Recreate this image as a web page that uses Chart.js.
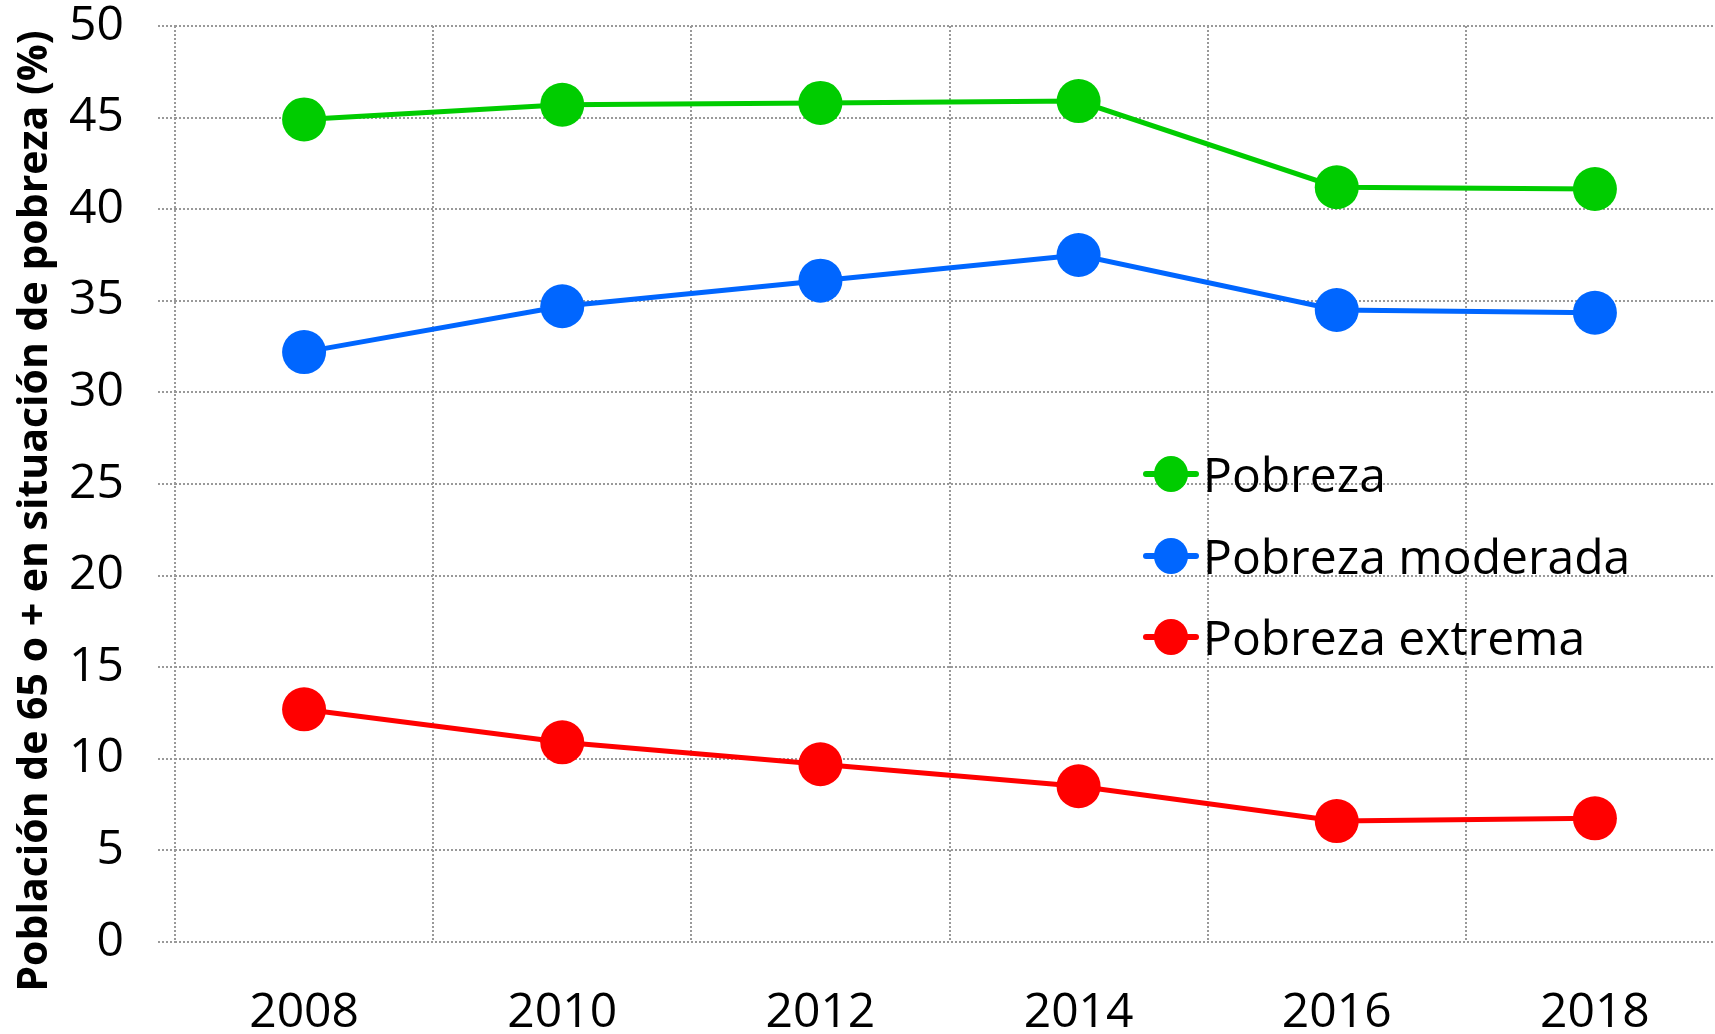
<!DOCTYPE html>
<html>
<head>
<meta charset="utf-8">
<script src="https://cdn.jsdelivr.net/npm/chart.js@4/dist/chart.umd.min.js"></script>
<style>
  html, body { margin: 0; padding: 0; background: #fff; overflow: hidden; width: 1715px; height: 1034px; }
  #wrap { position: relative; width: 1715px; height: 1034px; overflow: hidden; }
  #c { position: absolute; left: 0; top: 0; }
  #legend { position: absolute; left: 1143px; top: 0; font-family: 'Open Sans', sans-serif; font-size: 48px; color: #000; }
  .item { position: absolute; left: 0; display: flex; align-items: center; white-space: nowrap; height: 60px; }
  .mk { position: relative; width: 56px; height: 40px; }
  .mk .ln { position: absolute; left: 0; right: 0; top: 17px; height: 6px; border-radius: 3px; }
  .mk .dot { position: absolute; left: 11px; top: 2px; width: 34px; height: 36px; border-radius: 50%; }
  .tx { margin-left: 4px; line-height: 60px; }
</style>
</head>
<body>
<div id="wrap">
  <canvas id="c" width="1726" height="1034"></canvas>
  <div id="legend"></div>
</div>
<script>
const years = ['2008', '2010', '2012', '2014', '2016', '2018'];
const pobreza = [44.9, 45.7, 45.8, 45.9, 41.2, 41.1];
const pobrezaModerada = [32.2, 34.7, 36.1, 37.5, 34.5, 34.35];
const pobrezaExtrema = [12.7, 10.9, 9.7, 8.5, 6.6, 6.75];
const seriesNames = ['Pobreza', 'Pobreza moderada', 'Pobreza extrema'];
const seriesColors = ['#00CC00', '#0066FF', '#FF0000'];
const yTitle = 'Población de 65 o + en situación de pobreza (%)';
const yMin = 0, yMax = 50, yStep = 5;

const FONT = "'Open Sans', sans-serif";
const seriesData = [pobreza, pobrezaModerada, pobrezaExtrema];

const datasets = seriesData.map((d, i) => ({
  label: seriesNames[i],
  data: d,
  borderColor: seriesColors[i],
  backgroundColor: seriesColors[i],
  pointBackgroundColor: seriesColors[i],
  pointBorderWidth: 0,
  pointRadius: 22,
  pointHoverRadius: 22,
  borderWidth: 5,
  tension: 0,
  clip: false
}));

const yTitlePlugin = {
  id: 'yTitle',
  afterDraw(chart) {
    const ctx = chart.ctx;
    ctx.save();
    ctx.translate(35, 511);
    ctx.rotate(-Math.PI / 2);
    ctx.font = "bold 41px " + FONT;
    ctx.fillStyle = '#000';
    ctx.textAlign = 'center';
    ctx.textBaseline = 'middle';
    ctx.fillText(yTitle, 0, 0);
    ctx.restore();
  }
};

const chart = new Chart(document.getElementById('c'), {
  type: 'line',
  data: { labels: years, datasets },
  options: {
    responsive: false,
    animation: false,
    devicePixelRatio: 1,
    layout: { autoPadding: false, padding: { top: 0, left: 0, right: 2, bottom: 0 } },
    plugins: { legend: { display: false }, tooltip: { enabled: false } },
    events: [],
    scales: {
      x: {
        type: 'category',
        offset: true,
        grid: { offset: true, drawTicks: false, color: '#999', lineWidth: 2 },
        border: { display: false, dash: [2, 2] },
        ticks: { color: '#000', font: { family: FONT, size: 48, lineHeight: 1.1 }, padding: 45, maxRotation: 0 },
        afterFit(s) { s.height = 92; s.paddingLeft = 0; s.paddingRight = 0; }
      },
      y: {
        min: yMin, max: yMax,
        grid: { color: '#999', lineWidth: 2, tickLength: 17, tickColor: '#999', tickBorderDash: [2, 2], tickWidth: 2 },
        border: { display: false, dash: [2, 2] },
        ticks: { stepSize: yStep, color: '#000', font: { family: FONT, size: 48, lineHeight: 1.1 }, padding: 34 },
        afterFit(s) { s.width = 175; s.paddingTop = 26; s.paddingBottom = 0; }
      }
    }
  },
  plugins: [yTitlePlugin]
});

// Legend inside the plot area
const legend = document.getElementById('legend');
const rowCenters = [474, 556, 637];
seriesNames.forEach((name, i) => {
  const item = document.createElement('div');
  item.className = 'item';
  item.style.top = (rowCenters[i] - 30) + 'px';
  const mk = document.createElement('div');
  mk.className = 'mk';
  const ln = document.createElement('div');
  ln.className = 'ln'; ln.style.background = seriesColors[i];
  const dot = document.createElement('div');
  dot.className = 'dot'; dot.style.background = seriesColors[i];
  mk.appendChild(ln); mk.appendChild(dot);
  const tx = document.createElement('span');
  tx.className = 'tx'; tx.textContent = name;
  item.appendChild(mk); item.appendChild(tx);
  legend.appendChild(item);
});
</script>
</body>
</html>
